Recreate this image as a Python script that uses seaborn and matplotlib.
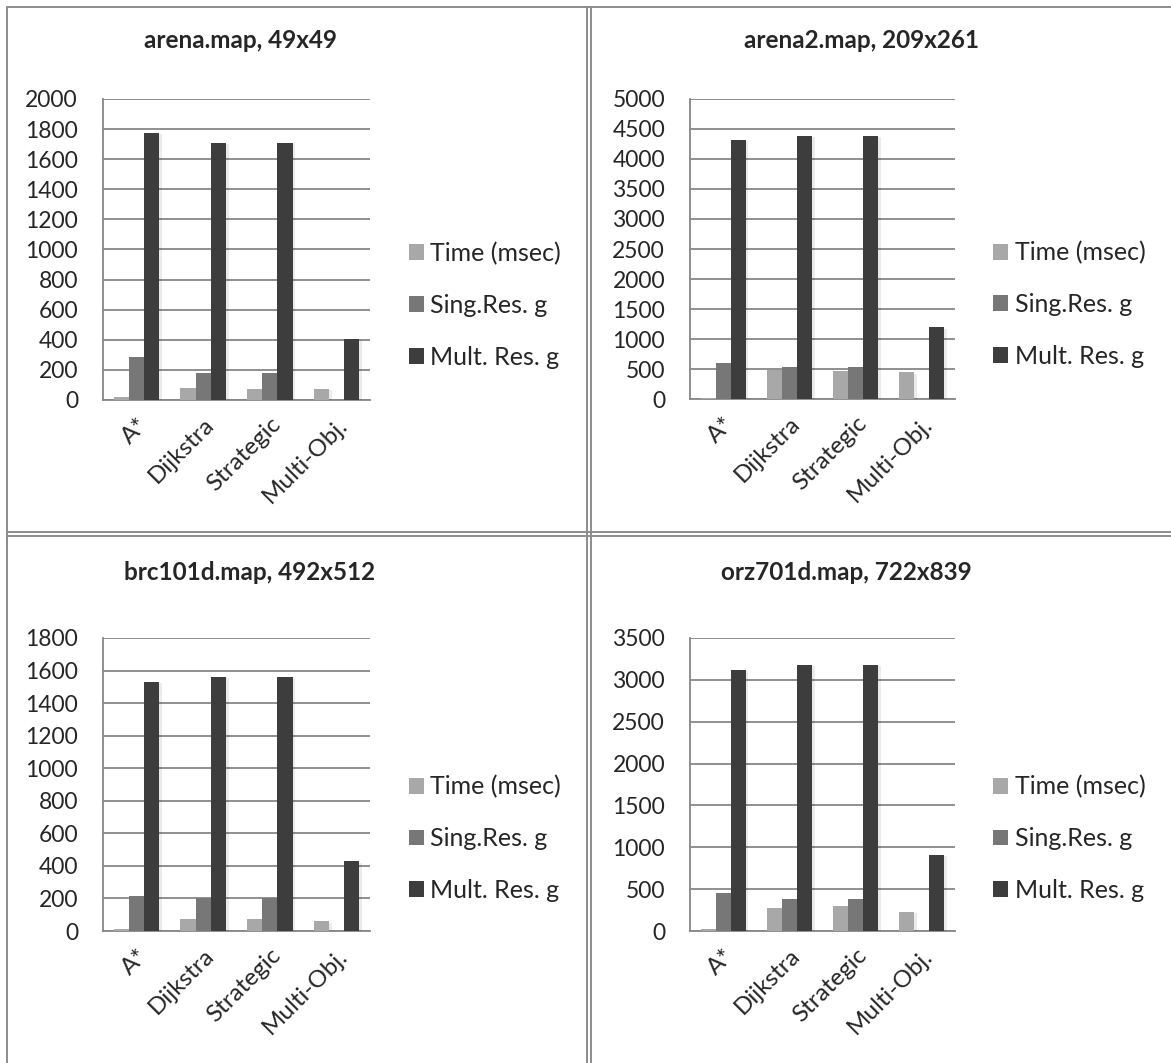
import pandas as pd
import matplotlib.pyplot as plt
import matplotlib.patheffects as pe
from matplotlib.lines import Line2D
import seaborn as sns

# ------------------------------------------------------------
# Data
# ------------------------------------------------------------
algorithms = ["A*", "Dijkstra", "Strategic", "Multi-Obj."]
series = ["Time (msec)", "Sing.Res. g", "Mult. Res. g"]

arena_time = [20, 82, 75, 75]
arena_sing = [289, 182, 182, 0]
arena_mult = [1775, 1707, 1707, 407]

arena2_time = [10, 490, 466, 444]
arena2_sing = [602, 529, 529, 0]
arena2_mult = [4320, 4390, 4390, 1195]

brc_time = [10, 72, 72, 59]
brc_sing = [214, 200, 200, 0]
brc_mult = [1530, 1560, 1560, 428]

orz_time = [24, 276, 304, 232]
orz_sing = [448, 384, 384, 0]
orz_mult = [3120, 3180, 3180, 911]

titles = ["arena.map, 49x49", "arena2.map, 209x261",
          "brc101d.map, 492x512", "orz701d.map, 722x839"]
y_max = [2000, 5000, 1800, 3500]
y_step = [200, 500, 200, 500]

panels = [
    (arena_time, arena_sing, arena_mult),
    (arena2_time, arena2_sing, arena2_mult),
    (brc_time, brc_sing, brc_mult),
    (orz_time, orz_sing, orz_mult),
]

colors = ["#a8a8a8", "#777777", "#3d3d3d"]
grid_col = "#878787"

# ------------------------------------------------------------
# Figure
# ------------------------------------------------------------
sns.set_style("white")
plt.rcParams["font.family"] = ["Lato", "DejaVu Sans"]

W, H = 1171, 1063
fig = plt.figure(figsize=(W / 100, H / 100), dpi=100)


def px_rect(left, top, right, bottom):
    return [left / W, 1 - bottom / H, (right - left) / W, (bottom - top) / H]


# axes boxes in pixels: left, top, right, bottom
boxes = [
    (103, 99, 370, 400),
    (690, 99, 955, 399),
    (103, 638, 370, 931),
    (690, 638, 955, 931),
]
title_pos = [(240, 40), (861, 40), (250, 573), (846, 573)]

for i, (vals, box) in enumerate(zip(panels, boxes)):
    ax = fig.add_axes(px_rect(*box))

    rows = []
    for s, v in zip(series, vals):
        for a, val in zip(algorithms, v):
            rows.append({"Algorithm": a, "Series": s, "Value": val})
    df = pd.DataFrame(rows)

    sns.barplot(
        data=df, x="Algorithm", y="Value", hue="Series",
        palette=colors, width=0.68, gap=0, ax=ax,
        edgecolor="none", linewidth=0, zorder=3,
    )
    for p in ax.patches:
        p.set_path_effects([
            pe.SimplePatchShadow(offset=(2, -1), shadow_rgbFace="#000000", alpha=0.08),
            pe.Normal(),
        ])

    ax.set_ylim(0, y_max[i])
    ax.set_yticks(range(0, y_max[i] + 1, y_step[i]))
    ax.set_xlim(-0.5, 3.5)
    ax.yaxis.grid(True, color=grid_col, linewidth=1.3, zorder=0)
    ax.set_axisbelow(True)

    for side in ["top", "right"]:
        ax.spines[side].set_visible(False)
    for side in ["left", "bottom"]:
        ax.spines[side].set_color(grid_col)
        ax.spines[side].set_linewidth(1.3)

    ax.set_xlabel("")
    ax.set_ylabel("")
    ax.tick_params(axis="y", direction="out", length=6, width=1.3,
                   color=grid_col, labelsize=16.5, pad=12)
    ax.set_xticks([-0.5, 0.5, 1.5, 2.5, 3.5], minor=True)
    ax.tick_params(axis="x", which="minor", direction="out", length=6,
                   width=1.3, color=grid_col)
    ax.tick_params(axis="x", which="major", length=0, labelsize=17.5, pad=10)
    plt.setp(ax.get_xticklabels(), rotation=45, ha="right", rotation_mode="anchor")

    sns.move_legend(
        ax, "center left", bbox_to_anchor=(1.06, 0.315), title=None,
        frameon=False, fontsize=18, labelspacing=1.15,
        handlelength=0.6, handleheight=0.6, handletextpad=0.25,
    )

    tx, ty = title_pos[i]
    fig.text(tx / W, 1 - ty / H, titles[i], fontsize=17.5, fontweight="bold",
             ha="center", va="center")

# ------------------------------------------------------------
# Table borders
# ------------------------------------------------------------
def hline(y, x0, x1):
    fig.add_artist(Line2D([x0 / W, x1 / W], [1 - y / H, 1 - y / H],
                          color="#8c8c8c", linewidth=1.4))


def vline(x, y0, y1):
    fig.add_artist(Line2D([x / W, x / W], [1 - y0 / H, 1 - y1 / H],
                          color="#8c8c8c", linewidth=1.4))


hline(7, 7, W)
vline(7, 7, H)
vline(587, 7, H)
vline(591, 7, H)
hline(532, 7, W)
hline(536, 7, W)

fig.savefig("out.png", dpi=100, facecolor="white")
